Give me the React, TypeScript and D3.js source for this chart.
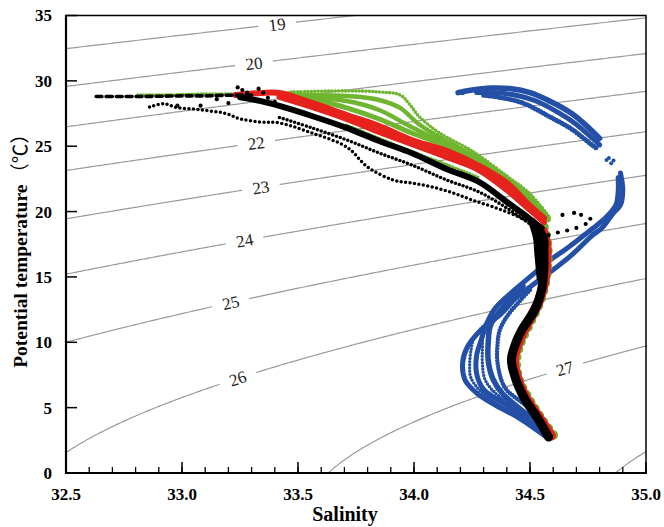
import React from 'react';
import * as d3 from 'd3';

// T-S diagram with potential density (sigma-theta) isolines

const W = 664;
const H = 527;

const salinityTicks = [32.5, 33.0, 33.5, 34.0, 34.5, 35.0];
const tempTicks = [0, 5, 10, 15, 20, 25, 30, 35];
const sigmaLevels = [19, 20, 21, 22, 23, 24, 25, 26, 27, 28];
const labelledLevels = [19, 20, 22, 23, 24, 25, 26, 27];
// salinity where each isoline label sits
const labelSal = [33.41, 33.31, 33.32, 33.34, 33.27, 33.21, 33.24, 34.65];

// [salinity, potential temperature]
const blueTopOuter = [[34.19, 29.1], [34.25, 29.3], [34.33, 29.45], [34.42, 29.4], [34.5, 29.1], [34.58, 28.5], [34.68, 27.5], [34.76, 26.3], [34.8, 25.6]];
const blueTopMid = [[34.27, 29.1], [34.35, 29.1], [34.44, 28.9], [34.52, 28.5], [34.6, 27.8], [34.69, 26.8], [34.77, 25.6], [34.8, 25.1]];
const blueTopInner = [[34.3, 28.9], [34.38, 28.7], [34.47, 28.3], [34.58, 27.3], [34.68, 26.3], [34.76, 25.2], [34.79, 24.8]];
const blueSpot = [[34.84, 24.1], [34.86, 23.9], [34.85, 23.7], [34.83, 23.95], [34.19, 29.1], [34.21, 29.05], [34.23, 29.2]];
const blueArmOuter = [[34.89, 22.95], [34.9, 21.65], [34.89, 20.5], [34.86, 19.9], [34.81, 18.74], [34.77, 18.2], [34.68, 16.68], [34.61, 15.68], [34.54, 14.77], [34.44, 13.39], [34.37, 12.09], [34.28, 10.79], [34.23, 9.64], [34.21, 8.49], [34.22, 7.12], [34.27, 6.12], [34.35, 5.2], [34.43, 4.44], [34.51, 3.52], [34.57, 2.75]];
const blueArmInner = [[34.88, 22.6], [34.88, 21.5], [34.87, 20.5], [34.83, 19.6], [34.77, 18.7], [34.66, 17.2], [34.58, 16.2], [34.5, 15.0], [34.42, 13.8], [34.35, 12.6], [34.31, 11.3], [34.29, 10.2], [34.27, 9.0], [34.27, 7.6], [34.3, 6.4], [34.38, 5.4], [34.46, 4.4], [34.53, 3.4], [34.57, 2.9]];
const blueArmMid = [[34.47, 14.3], [34.38, 12.6], [34.33, 11.3], [34.32, 10.0], [34.32, 8.6], [34.34, 7.2], [34.38, 6.1], [34.45, 5.0], [34.52, 4.0], [34.56, 3.2]];
const blueArmInner2 = [[34.5, 14.0], [34.41, 12.2], [34.37, 10.94], [34.36, 9.79], [34.36, 8.42], [34.39, 6.58], [34.45, 5.59], [34.53, 4.59], [34.56, 3.5]];
const blueArmFill1 = [[34.4, 12.8], [34.32, 11.6], [34.26, 10.4], [34.245, 9.3], [34.24, 8.3], [34.245, 7.3], [34.285, 6.3], [34.36, 5.3], [34.44, 4.4]];
const blueArmFill2 = [[34.35, 11.8], [34.3, 10.6], [34.295, 9.5], [34.295, 8.3], [34.305, 7.2], [34.34, 6.3], [34.41, 5.3], [34.49, 4.3]];

const greenSurface = [[32.81, 28.92], [32.95, 28.92], [33.08, 29.0], [33.25, 29.0], [33.38, 29.07], [33.47, 29.1]];
const greenFan1 = [[33.47, 29.15], [33.71, 29.23], [33.85, 29.15], [33.94, 28.92], [33.98, 28.23], [34.02, 27.31], [34.11, 26.01], [34.25, 24.64], [34.4, 22.72], [34.5, 21.35], [34.58, 19.66]];
const greenFan2 = [[33.47, 28.92], [33.71, 28.84], [33.85, 28.54], [33.94, 27.93], [34.02, 26.7], [34.13, 25.48], [34.26, 24.25], [34.4, 22.42], [34.5, 21.04], [34.58, 19.51]];
const greenFan3 = [[33.51, 28.77], [33.71, 28.46], [33.85, 27.77], [33.98, 26.55], [34.11, 25.4], [34.26, 24.1], [34.4, 22.26], [34.5, 20.81], [34.58, 19.36]];
const greenFan4 = [[33.51, 28.84], [33.71, 27.93], [33.85, 27.08], [33.99, 26.01], [34.14, 25.02], [34.28, 23.87], [34.4, 22.49], [34.5, 20.73]];
const greenBelow = [[33.71, 26.6], [33.85, 25.6], [33.99, 24.6], [34.14, 23.6], [34.28, 22.6]];
const greenDeep = [[34.56, 18.8], [34.575, 17.5], [34.575, 16.0], [34.565, 14.5], [34.54, 13.0], [34.5, 11.5], [34.46, 10.0], [34.44, 8.6], [34.455, 7.0], [34.5, 5.5], [34.55, 4.1], [34.6, 2.9]];

const redUpper = [[33.23, 28.92], [33.34, 29.07], [33.42, 29.07], [33.56, 28.31], [33.71, 27.39], [33.85, 26.55], [33.99, 25.48], [34.14, 24.64], [34.28, 23.49], [34.4, 22.19], [34.5, 20.43], [34.56, 19.51]];
const redLower = [[33.42, 28.77], [33.56, 28.0], [33.71, 27.08], [33.85, 26.09], [33.99, 25.17], [34.14, 24.18], [34.28, 23.18], [34.4, 21.65], [34.5, 20.12], [34.56, 19.2]];
const redDeep = [[34.555, 18.5], [34.57, 17.5], [34.57, 16.0], [34.56, 14.5], [34.535, 13.0], [34.49, 11.5], [34.45, 10.0], [34.43, 8.6], [34.45, 7.0], [34.49, 5.5], [34.54, 4.2], [34.59, 2.85]];

const blackSurface = [[32.63, 28.8], [32.72, 28.8], [32.8, 28.8], [32.9, 28.82], [33.0, 28.85], [33.1, 28.85], [33.2, 28.9], [33.3, 28.92]];
const blackLower = [[32.86, 28.0], [32.92, 28.25], [32.98, 27.95], [33.05, 27.85], [33.12, 27.7], [33.19, 27.5], [33.25, 27.1], [33.34, 26.85], [33.42, 26.78], [33.56, 26.01], [33.71, 24.94], [33.8, 23.41], [33.91, 22.42], [33.99, 22.19], [34.08, 21.88], [34.17, 21.42], [34.25, 20.89], [34.35, 20.3], [34.45, 19.6], [34.52, 18.9]];
const blackUpper = [[33.25, 28.75], [33.34, 28.45], [33.42, 28.08], [33.56, 27.31], [33.71, 26.4], [33.85, 25.4], [33.99, 24.48], [34.14, 23.26], [34.28, 22.27], [34.4, 20.73], [34.5, 19.43], [34.55, 18.74]];
const blackMid = [[33.42, 27.2], [33.56, 26.4], [33.71, 25.48], [33.85, 24.48], [33.99, 23.57], [34.14, 22.42], [34.28, 21.5], [34.4, 20.27], [34.5, 19.05], [34.55, 18.4]];
const blackDeep = [[34.54, 18.6], [34.56, 17.8], [34.56, 17.06], [34.56, 15.76], [34.55, 14.0], [34.52, 12.47], [34.47, 11.1], [34.44, 10.0], [34.42, 8.65], [34.44, 7.12], [34.48, 5.59], [34.53, 4.28], [34.58, 2.75]];
const blackBulge = [[34.51, 19.2], [34.53, 18.0], [34.535, 17.0], [34.54, 16.0], [34.545, 15.0]];
const blackDots = [[33.24, 29.5], [33.26, 29.3], [33.28, 29.1], [33.33, 29.4], [33.35, 29.1], [33.37, 28.7], [33.4, 28.4], [33.2, 28.3], [33.15, 28.6], [32.98, 28.1], [33.08, 28.1],
  [34.64, 19.74], [34.69, 19.9], [34.72, 19.75], [34.76, 19.45], [34.74, 19.05], [34.7, 18.75], [34.66, 18.55], [34.62, 18.4], [34.58, 18.2]];

const BLUE = '#2350a6';
const GREEN = '#6fb52f';
const RED = '#e5221b';
const BLACK = '#000';

// UNESCO EOS-80 density at p = 0, minus 1000
function sigma0(S: number, T: number) {
  const rw = 999.842594 + 6.793952e-2 * T - 9.09529e-3 * T * T + 1.001685e-4 * T ** 3 - 1.120083e-6 * T ** 4 + 6.536332e-9 * T ** 5;
  const A = 8.24493e-1 - 4.0899e-3 * T + 7.6438e-5 * T * T - 8.2467e-7 * T ** 3 + 5.3875e-9 * T ** 4;
  const B = -5.72466e-3 + 1.0227e-4 * T - 1.6546e-6 * T * T;
  const C = 4.8314e-4;
  return rw + A * S + B * S ** 1.5 + C * S * S - 1000;
}

function tempAt(S: number, level: number) {
  let lo = -4, hi = 45;
  for (let i = 0; i < 50; i++) {
    const mid = (lo + hi) / 2;
    if (sigma0(S, mid) > level) lo = mid; else hi = mid;
  }
  return (lo + hi) / 2;
}

const App = () => {
  const x = d3.scaleLinear().domain([32.5, 35]).range([66, 646]);
  const y = d3.scaleLinear().domain([0, 35]).range([473, 15.5]);
  const line = d3.line<number[]>().x(d => x(d[0])).y(d => y(d[1])).curve(d3.curveCatmullRom.alpha(0.5));
  const isoLine = d3.line<number[]>().x(d => x(d[0])).y(d => y(d[1]));

  const sSteps = d3.range(32.45, 35.06, 0.01);
  const isolines = sigmaLevels.map(lv => sSteps.map(s => [s, tempAt(s, lv)]).filter(p => p[1] > -3 && p[1] < 38));

  const labels = labelledLevels.map((lv, i) => {
    const s = labelSal[i];
    const px = x(s), py = y(tempAt(s, lv));
    const dx = x(s + 0.02) - x(s - 0.02);
    const dy = y(tempAt(s + 0.02, lv)) - y(tempAt(s - 0.02, lv));
    return { lv, px, py, ang: (Math.atan2(dy, dx) * 180) / Math.PI };
  });

  const layers = [
    { d: blueTopOuter, c: BLUE, w: 5.5, dash: null },
    { d: blueTopMid, c: BLUE, w: 5, dash: null },
    { d: blueTopInner, c: BLUE, w: 5, dash: '0 3' },
    { d: blueArmOuter, c: BLUE, w: 5, dash: null },
    { d: blueArmInner, c: BLUE, w: 5, dash: null },
    { d: blueArmMid, c: BLUE, w: 5.5, dash: null },
    { d: blueArmFill1, c: BLUE, w: 3.4, dash: '0 3.2' },
    { d: blueArmFill2, c: BLUE, w: 3.4, dash: '0 3.2' },
    { d: blueArmInner2, c: BLUE, w: 4.5, dash: '0 3' },
    { d: greenSurface, c: GREEN, w: 3.4, dash: '0 3' },
    { d: greenFan1, c: GREEN, w: 3.6, dash: '0 3.4' },
    { d: greenFan2, c: GREEN, w: 4.5, dash: null },
    { d: greenFan3, c: GREEN, w: 4.5, dash: null },
    { d: greenFan4, c: GREEN, w: 5, dash: null },
    { d: greenBelow, c: GREEN, w: 3.4, dash: '0 3' },
    { d: greenDeep, c: GREEN, w: 10, dash: '0 8' },
    { d: redUpper, c: RED, w: 6, dash: null },
    { d: redLower, c: RED, w: 6, dash: null },
    { d: redDeep, c: RED, w: 10, dash: null },
    { d: blackSurface, c: BLACK, w: 3.6, dash: '6 4' },
    { d: blackLower, c: BLACK, w: 3.5, dash: '0 4.5' },
    { d: blackUpper, c: BLACK, w: 6, dash: null },
    { d: blackMid, c: BLACK, w: 3.6, dash: '0 4' },
    { d: blackDeep, c: BLACK, w: 9, dash: null },
    { d: blackBulge, c: BLACK, w: 8, dash: null },
  ];

  const font = "'Liberation Serif', 'Times New Roman', serif";
  const minorTicks = d3.ticks(32.5, 35, 25);

  return (
    <svg width={W} height={H} style={{ position: 'absolute', left: 0, top: 0, background: '#fff' }} fontFamily={font}>
      <defs>
        <clipPath id="plot">
          <rect x={66} y={15.5} width={580} height={457.5} />
        </clipPath>
      </defs>
      <g clipPath="url(#plot)">
        {isolines.map((pts, i) => (
          <path key={i} d={isoLine(pts) || ''} fill="none" stroke="#9a9a9a" strokeWidth={1.2} />
        ))}
        {labels.map(l => (
          <g key={l.lv} transform={`translate(${l.px},${l.py}) rotate(${l.ang})`}>
            <rect x={-19} y={-8} width={38} height={16} fill="#fff" />
            <text textAnchor="middle" dy="0.35em" fontSize={17} fill="#222">{l.lv}</text>
          </g>
        ))}
        {layers.map((l, i) => (
          <path key={i} d={line(l.d) || ''} fill="none" stroke={l.c} strokeWidth={l.w}
            strokeLinecap="round" strokeLinejoin="round" strokeDasharray={l.dash || undefined} />
        ))}
        {blueSpot.map((p, i) => <circle key={'b' + i} cx={x(p[0])} cy={y(p[1])} r={2} fill={BLUE} />)}
        {blackDots.map((p, i) => <circle key={'k' + i} cx={x(p[0])} cy={y(p[1])} r={2.1} fill={BLACK} />)}
      </g>

      {/* frame */}
      <rect x={66} y={15.5} width={580} height={457.5} fill="none" stroke="#000" strokeWidth={1.5} />
      <line x1={66} x2={66} y1={15} y2={474} stroke="#000" strokeWidth={2.2} />
      <line x1={65} x2={647} y1={473} y2={473} stroke="#000" strokeWidth={2.2} />

      {tempTicks.map(t => (
        <g key={t}>
          <line x1={66} x2={77} y1={y(t)} y2={y(t)} stroke="#000" strokeWidth={1.5} />
          <text x={52} y={y(t)} dy="0.35em" textAnchor="end" fontSize={17} fontWeight="bold">{t}</text>
        </g>
      ))}
      {minorTicks.map(s => (
        <line key={s} x1={x(s)} x2={x(s)} y1={473} y2={467} stroke="#000" strokeWidth={1.3} />
      ))}
      {salinityTicks.map(s => (
        <g key={s}>
          <line x1={x(s)} x2={x(s)} y1={473} y2={462} stroke="#000" strokeWidth={1.5} />
          <text x={x(s)} y={500} textAnchor="middle" fontSize={17} fontWeight="bold">{s.toFixed(1)}</text>
        </g>
      ))}
      <text x={345} y={521} textAnchor="middle" fontSize={20} fontWeight="bold">Salinity</text>
      <text transform="translate(27,246) rotate(-90)" textAnchor="middle" fontSize={19.5} fontWeight="bold">
        <tspan>Potential temperature</tspan>
        <tspan dx={2} fontFamily="'Noto Sans CJK SC', sans-serif" fontWeight="normal">（℃）</tspan>
      </text>
    </svg>
  );
};

export default App;
